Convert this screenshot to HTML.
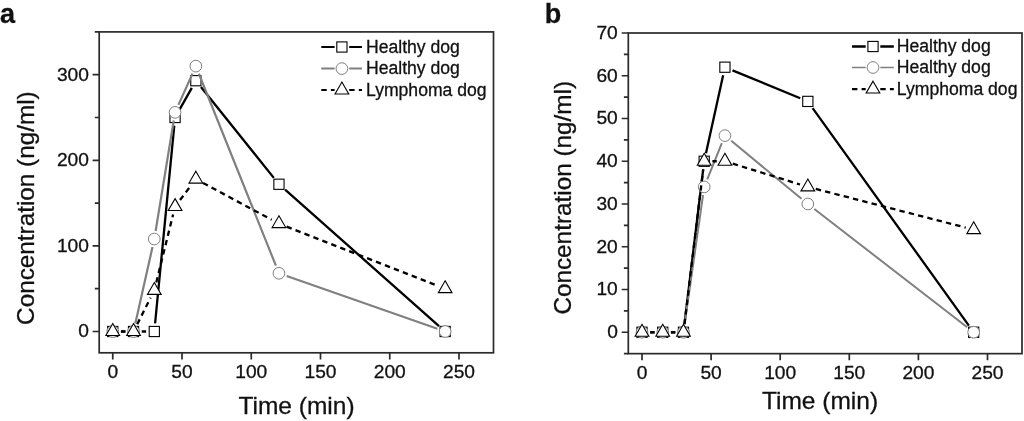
<!DOCTYPE html>
<html><head><meta charset="utf-8"><title>Figure</title>
<style>
html,body{margin:0;padding:0;background:#fff;}
svg{display:block;will-change:transform;font-family:"Liberation Sans",sans-serif;}
text{stroke:#111;stroke-width:0.3px;}
</style></head>
<body>
<svg width="1024" height="421" viewBox="0 0 1024 421">
<rect width="1024" height="421" fill="#fff"/>
<g>
<rect x="99.2" y="31.9" width="394.3" height="320.9" fill="none" stroke="#2a2a2a" stroke-width="1.7"/>
<path d="M112.75 352.8v6.6M182 352.8v6.6M251.25 352.8v6.6M320.5 352.8v6.6M389.75 352.8v6.6M459 352.8v6.6M99.2 331.5h-6.6M99.2 245.9h-6.6M99.2 160.3h-6.6M99.2 74.7h-6.6M99.2 288.7h-4.4M99.2 203.1h-4.4M99.2 117.5h-4.4M99.2 31.9h-4.4" stroke="#2a2a2a" stroke-width="1.7" fill="none"/>
<g font-size="19.2" fill="#111">
<text x="112.75" y="377.9" text-anchor="middle">0</text>
<text x="182" y="377.9" text-anchor="middle">50</text>
<text x="251.25" y="377.9" text-anchor="middle">100</text>
<text x="320.5" y="377.9" text-anchor="middle">150</text>
<text x="389.75" y="377.9" text-anchor="middle">200</text>
<text x="459" y="377.9" text-anchor="middle">250</text>
<text x="88.9" y="337.3" text-anchor="end">0</text>
<text x="88.9" y="251.7" text-anchor="end">100</text>
<text x="88.9" y="166.1" text-anchor="end">200</text>
<text x="88.9" y="80.5" text-anchor="end">300</text>
</g>
<text x="296.5" y="413.6" font-size="24.5" fill="#111" text-anchor="middle">Time (min)</text>
<text transform="translate(33.8 208.1) rotate(-90)" font-size="24.3" fill="#111" text-anchor="middle">Concentration (ng/ml)</text>
<text x="0" y="22.9" font-size="27" font-weight="bold" fill="#111">a</text>
<path d="M120.95 331.5L125.33 331.5M141.72 331.5L146.1 331.5M155.09 323.34L174.28 125.66M179.11 110.36L191.82 87.83M200.98 87.09L273.82 177.87M285.09 189.71L439.01 326.06" stroke="#000" stroke-width="2.3" fill="none"/>
<rect x="107.65" y="326.4" width="10.2" height="10.2" fill="#fff" stroke="#000" stroke-width="1.1"/>
<rect x="128.43" y="326.4" width="10.2" height="10.2" fill="#fff" stroke="#000" stroke-width="1.1"/>
<rect x="149.2" y="326.4" width="10.2" height="10.2" fill="#fff" stroke="#000" stroke-width="1.1"/>
<rect x="169.97" y="112.4" width="10.2" height="10.2" fill="#fff" stroke="#000" stroke-width="1.1"/>
<rect x="190.75" y="75.59" width="10.2" height="10.2" fill="#fff" stroke="#000" stroke-width="1.1"/>
<rect x="273.85" y="179.17" width="10.2" height="10.2" fill="#fff" stroke="#000" stroke-width="1.1"/>
<rect x="440.05" y="326.4" width="10.2" height="10.2" fill="#fff" stroke="#000" stroke-width="1.1"/>
<path d="M120.95 331.5L125.33 331.5M135.32 323.5L152.5 247.05M155.63 230.96L173.75 120.46M178.44 104.88L192.49 73.62M198.9 73.75L275.9 265.68M286.69 276L437.41 328.79" stroke="#808080" stroke-width="2.2" fill="none"/>
<circle cx="112.75" cy="331.5" r="5.85" fill="#fff" stroke="#808080" stroke-width="1.0"/>
<circle cx="133.53" cy="331.5" r="5.85" fill="#fff" stroke="#808080" stroke-width="1.0"/>
<circle cx="154.3" cy="239.05" r="5.85" fill="#fff" stroke="#808080" stroke-width="1.0"/>
<circle cx="175.07" cy="112.36" r="5.85" fill="#fff" stroke="#808080" stroke-width="1.0"/>
<circle cx="195.85" cy="66.14" r="5.85" fill="#fff" stroke="#808080" stroke-width="1.0"/>
<circle cx="278.95" cy="273.29" r="5.85" fill="#fff" stroke="#808080" stroke-width="1.0"/>
<circle cx="445.15" cy="331.5" r="5.85" fill="#fff" stroke="#808080" stroke-width="1.0"/>
<path d="M120.95 331.5L125.33 331.5M137.23 324.18L150.6 297.73M156.27 282.45L173.1 214.48M180.03 199.99L190.89 185.67M203.08 183L271.72 219.77M286.59 226.63L437.51 285.71" stroke="#000" stroke-width="2.3" fill="none" stroke-dasharray="5.4 4.2"/>
<path d="M112.75 323.59L119.6 335.45L105.9 335.45Z" fill="#fff" stroke="#000" stroke-width="1.1" stroke-linejoin="miter"/>
<path d="M133.53 323.59L140.38 335.45L126.68 335.45Z" fill="#fff" stroke="#000" stroke-width="1.1" stroke-linejoin="miter"/>
<path d="M154.3 282.5L161.15 294.37L147.45 294.37Z" fill="#fff" stroke="#000" stroke-width="1.1" stroke-linejoin="miter"/>
<path d="M175.07 198.61L181.92 210.48L168.22 210.48Z" fill="#fff" stroke="#000" stroke-width="1.1" stroke-linejoin="miter"/>
<path d="M195.85 171.22L202.7 183.09L189 183.09Z" fill="#fff" stroke="#000" stroke-width="1.1" stroke-linejoin="miter"/>
<path d="M278.95 215.73L285.8 227.6L272.1 227.6Z" fill="#fff" stroke="#000" stroke-width="1.1" stroke-linejoin="miter"/>
<path d="M445.15 280.79L452 292.65L438.3 292.65Z" fill="#fff" stroke="#000" stroke-width="1.1" stroke-linejoin="miter"/>
<path d="M321.3 47H334.6M349.2 47H362" stroke="#000" stroke-width="2" fill="none"/>
<rect x="336.8" y="41.9" width="10.2" height="10.2" fill="#fff" stroke="#000" stroke-width="1.1"/>
<text x="366" y="52.7" font-size="17.6" fill="#111">Healthy dog</text>
<path d="M321.3 68.6H334.6M349.2 68.6H362" stroke="#808080" stroke-width="2" fill="none"/>
<circle cx="341.9" cy="68.6" r="5.85" fill="#fff" stroke="#808080" stroke-width="1.0"/>
<text x="366" y="74.3" font-size="17.6" fill="#111">Healthy dog</text>
<path d="M321.3 90H334.6M349.2 90H362" stroke="#000" stroke-width="2.2" fill="none" stroke-dasharray="5.4 4.2"/>
<path d="M341.9 82.09L348.75 93.95L335.05 93.95Z" fill="#fff" stroke="#000" stroke-width="1.1" stroke-linejoin="miter"/>
<text x="366" y="95.7" font-size="17.6" fill="#111">Lymphoma dog</text>
</g>
<g>
<rect x="628.3" y="33" width="393.7" height="320.65" fill="none" stroke="#2a2a2a" stroke-width="1.7"/>
<path d="M642 353.65v6.6M711.1 353.65v6.6M780.2 353.65v6.6M849.3 353.65v6.6M918.4 353.65v6.6M987.5 353.65v6.6M628.3 332.25h-6.6M628.3 289.5h-6.6M628.3 246.75h-6.6M628.3 204h-6.6M628.3 161.25h-6.6M628.3 118.5h-6.6M628.3 75.75h-6.6M628.3 33h-6.6M628.3 353.62h-4.4M628.3 310.88h-4.4M628.3 268.12h-4.4M628.3 225.38h-4.4M628.3 182.62h-4.4M628.3 139.87h-4.4M628.3 97.12h-4.4M628.3 54.38h-4.4" stroke="#2a2a2a" stroke-width="1.7" fill="none"/>
<g font-size="19.2" fill="#111">
<text x="642" y="379" text-anchor="middle">0</text>
<text x="711.1" y="379" text-anchor="middle">50</text>
<text x="780.2" y="379" text-anchor="middle">100</text>
<text x="849.3" y="379" text-anchor="middle">150</text>
<text x="918.4" y="379" text-anchor="middle">200</text>
<text x="987.5" y="379" text-anchor="middle">250</text>
<text x="617.8" y="338.05" text-anchor="end">0</text>
<text x="617.8" y="295.3" text-anchor="end">10</text>
<text x="617.8" y="252.55" text-anchor="end">20</text>
<text x="617.8" y="209.8" text-anchor="end">30</text>
<text x="617.8" y="167.05" text-anchor="end">40</text>
<text x="617.8" y="124.3" text-anchor="end">50</text>
<text x="617.8" y="81.55" text-anchor="end">60</text>
<text x="617.8" y="38.8" text-anchor="end">70</text>
</g>
<text x="820" y="409.2" font-size="24.5" fill="#111" text-anchor="middle">Time (min)</text>
<text transform="translate(570.8 197.8) rotate(-90)" font-size="24.3" fill="#111" text-anchor="middle">Concentration (ng/ml)</text>
<text x="544.8" y="22.7" font-size="27" font-weight="bold" fill="#111">b</text>
<path d="M650.2 332.25L654.53 332.25M670.93 332.25L675.26 332.25M684.45 324.11L703.2 169.39M705.96 153.24L723.15 75.21M732.5 70.33L800.26 98.27M812.62 108.06L968.9 325.59" stroke="#000" stroke-width="2.3" fill="none"/>
<rect x="636.9" y="327.15" width="10.2" height="10.2" fill="#fff" stroke="#000" stroke-width="1.1"/>
<rect x="657.63" y="327.15" width="10.2" height="10.2" fill="#fff" stroke="#000" stroke-width="1.1"/>
<rect x="678.36" y="327.15" width="10.2" height="10.2" fill="#fff" stroke="#000" stroke-width="1.1"/>
<rect x="699.09" y="156.15" width="10.2" height="10.2" fill="#fff" stroke="#000" stroke-width="1.1"/>
<rect x="719.82" y="62.1" width="10.2" height="10.2" fill="#fff" stroke="#000" stroke-width="1.1"/>
<rect x="802.74" y="96.3" width="10.2" height="10.2" fill="#fff" stroke="#000" stroke-width="1.1"/>
<rect x="968.58" y="327.15" width="10.2" height="10.2" fill="#fff" stroke="#000" stroke-width="1.1"/>
<path d="M650.2 332.25L654.53 332.25M670.93 332.25L675.26 332.25M684.62 324.13L703.03 195.02M707.26 179.3L721.85 143.2M731.25 140.82L801.51 198.78M814.33 209.02L967.19 327.23" stroke="#808080" stroke-width="2" fill="none"/>
<circle cx="642" cy="332.25" r="5.85" fill="#fff" stroke="#808080" stroke-width="1.0"/>
<circle cx="662.73" cy="332.25" r="5.85" fill="#fff" stroke="#808080" stroke-width="1.0"/>
<circle cx="683.46" cy="332.25" r="5.85" fill="#fff" stroke="#808080" stroke-width="1.0"/>
<circle cx="704.19" cy="186.9" r="5.85" fill="#fff" stroke="#808080" stroke-width="1.0"/>
<circle cx="724.92" cy="135.6" r="5.85" fill="#fff" stroke="#808080" stroke-width="1.0"/>
<circle cx="807.84" cy="204" r="5.85" fill="#fff" stroke="#808080" stroke-width="1.0"/>
<circle cx="973.68" cy="332.25" r="5.85" fill="#fff" stroke="#808080" stroke-width="1.0"/>
<path d="M650.2 332.25L654.53 332.25M670.93 332.25L675.26 332.25M684.45 324.11L703.2 169.39M712.39 161.25L716.72 161.25M732.75 163.67L800.01 184.48M815.78 188.95L965.74 227.6" stroke="#000" stroke-width="2.3" fill="none" stroke-dasharray="5.4 4.2"/>
<path d="M642 324.34L648.85 336.2L635.15 336.2Z" fill="#fff" stroke="#000" stroke-width="1.1" stroke-linejoin="miter"/>
<path d="M662.73 324.34L669.58 336.2L655.88 336.2Z" fill="#fff" stroke="#000" stroke-width="1.1" stroke-linejoin="miter"/>
<path d="M683.46 324.34L690.31 336.2L676.61 336.2Z" fill="#fff" stroke="#000" stroke-width="1.1" stroke-linejoin="miter"/>
<path d="M704.19 153.34L711.04 165.2L697.34 165.2Z" fill="#fff" stroke="#000" stroke-width="1.1" stroke-linejoin="miter"/>
<path d="M724.92 153.34L731.77 165.2L718.07 165.2Z" fill="#fff" stroke="#000" stroke-width="1.1" stroke-linejoin="miter"/>
<path d="M807.84 178.99L814.69 190.85L800.99 190.85Z" fill="#fff" stroke="#000" stroke-width="1.1" stroke-linejoin="miter"/>
<path d="M973.68 221.74L980.53 233.6L966.83 233.6Z" fill="#fff" stroke="#000" stroke-width="1.1" stroke-linejoin="miter"/>
<path d="M852 46.5H865.7M880.3 46.5H893.8" stroke="#000" stroke-width="2.3" fill="none"/>
<rect x="867.9" y="41.4" width="10.2" height="10.2" fill="#fff" stroke="#000" stroke-width="1.1"/>
<text x="896.8" y="52.2" font-size="17.6" fill="#111">Healthy dog</text>
<path d="M852 67.5H865.7M880.3 67.5H893.8" stroke="#808080" stroke-width="1.5" fill="none"/>
<circle cx="873" cy="67.5" r="5.85" fill="#fff" stroke="#808080" stroke-width="1.0"/>
<text x="896.8" y="73.2" font-size="17.6" fill="#111">Healthy dog</text>
<path d="M852 89.1H865.7M880.3 89.1H893.8" stroke="#000" stroke-width="2.2" fill="none" stroke-dasharray="5.4 4.2"/>
<path d="M873 81.19L879.85 93.05L866.15 93.05Z" fill="#fff" stroke="#000" stroke-width="1.1" stroke-linejoin="miter"/>
<text x="896.8" y="94.8" font-size="17.6" fill="#111">Lymphoma dog</text>
</g>
</svg>
</body></html>
